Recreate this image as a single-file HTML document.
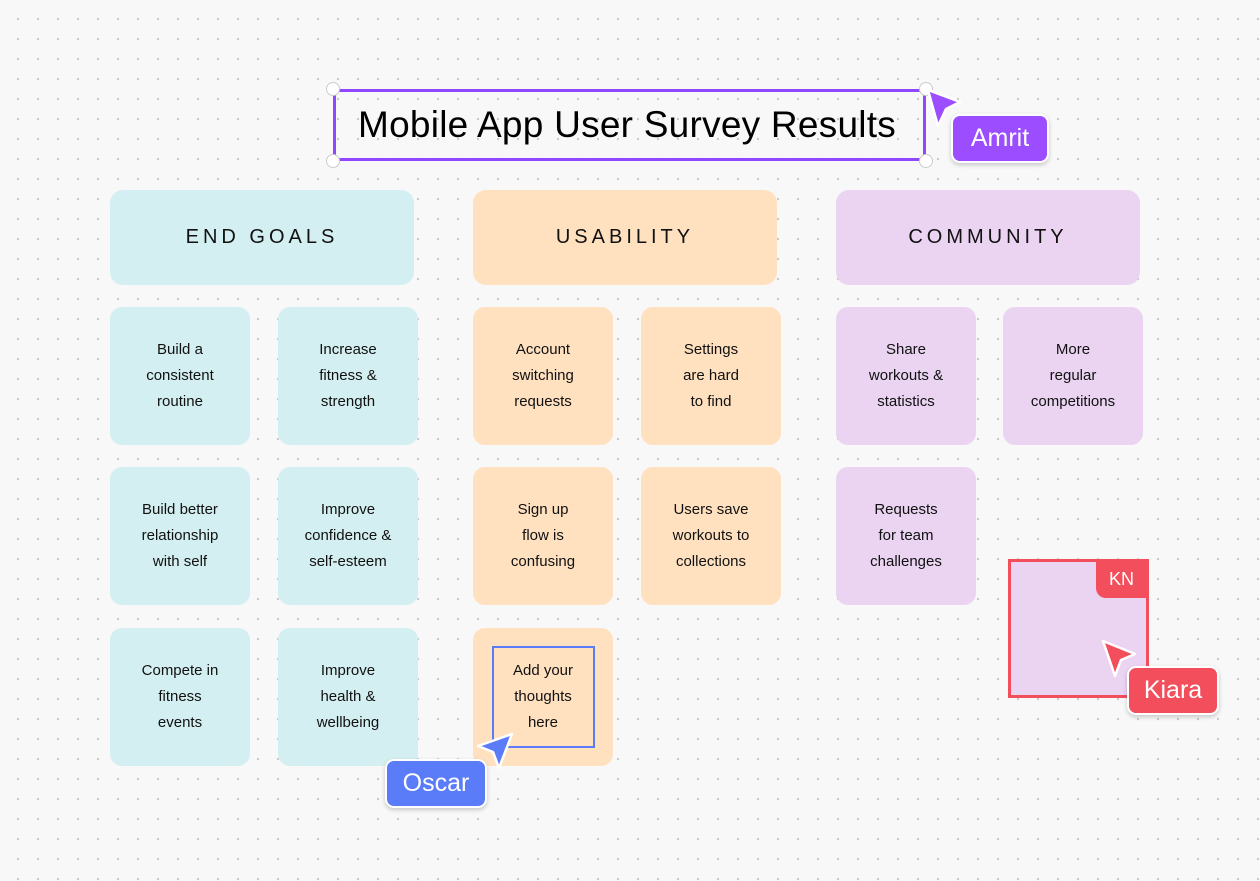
<!DOCTYPE html>
<html><head><meta charset="utf-8"><style>
*{margin:0;padding:0;box-sizing:border-box}
body{width:1260px;height:881px;overflow:hidden;background:#f8f8f8;font-family:"Liberation Sans",sans-serif;position:relative;
background-image:radial-gradient(circle,#c4c4c4 0.9px,transparent 1.3px);background-size:20px 20px;background-position:8px 9px}
.a{position:absolute}
.h{position:absolute;height:95px;width:304px;border-radius:13px;display:flex;align-items:center;justify-content:center;font-size:20px;letter-spacing:4px;color:#111}
.c{position:absolute;width:140px;height:138px;border-radius:12px;display:flex;align-items:center;justify-content:center;text-align:center;font-size:15px;line-height:26px;color:#111}
.t{background:#d4eff1}.o{background:#ffe1c0}.p{background:#ead4f2}
.lbl{position:absolute;color:#fff;font-size:25px;border-radius:9px;border:2px solid #fff;box-shadow:0 2px 5px rgba(0,0,0,.2);display:flex;align-items:center;justify-content:center}
.hd{position:absolute;width:14px;height:14px;border-radius:50%;background:#fff;border:1px solid #ccc}
</style></head><body>
<div class="a" style="left:333px;top:89px;width:593px;height:72px;border:3px solid #9146ff;display:flex;align-items:center;padding-left:22px;font-size:37px;letter-spacing:0.25px;color:#000">Mobile App User Survey Results</div>
<div class="hd" style="left:326px;top:82px"></div><div class="hd" style="left:919px;top:82px"></div>
<div class="hd" style="left:326px;top:154px"></div><div class="hd" style="left:919px;top:154px"></div>
<svg class="a" style="left:920px;top:82px" width="50" height="50"><path d="M8 8 L40 20 L26 27 L18 44 Z" fill="#9b4dff" stroke="#fff" stroke-width="2.5" stroke-linejoin="round"/></svg>
<div class="lbl" style="left:951px;top:114px;width:98px;height:49px;background:#9b4dff">Amrit</div>

<div class="h t" style="left:110px;top:190px">END GOALS</div>
<div class="h o" style="left:473px;top:190px">USABILITY</div>
<div class="h p" style="left:836px;top:190px">COMMUNITY</div>

<div class="c t" style="left:110px;top:307px">Build a<br>consistent<br>routine</div>
<div class="c t" style="left:278px;top:307px">Increase<br>fitness &amp;<br>strength</div>
<div class="c t" style="left:110px;top:467px">Build better<br>relationship<br>with self</div>
<div class="c t" style="left:278px;top:467px">Improve<br>confidence &amp;<br>self-esteem</div>
<div class="c t" style="left:110px;top:628px">Compete in<br>fitness<br>events</div>
<div class="c t" style="left:278px;top:628px">Improve<br>health &amp;<br>wellbeing</div>

<div class="c o" style="left:473px;top:307px">Account<br>switching<br>requests</div>
<div class="c o" style="left:641px;top:307px">Settings<br>are hard<br>to find</div>
<div class="c o" style="left:473px;top:467px">Sign up<br>flow is<br>confusing</div>
<div class="c o" style="left:641px;top:467px">Users save<br>workouts to<br>collections</div>
<div class="c o" style="left:473px;top:628px"><div style="width:103px;height:102px;border:2px solid #5b7cf8;display:flex;align-items:center;justify-content:center">Add your<br>thoughts<br>here</div></div>

<div class="c p" style="left:836px;top:307px">Share<br>workouts &amp;<br>statistics</div>
<div class="c p" style="left:1003px;top:307px">More<br>regular<br>competitions</div>
<div class="c p" style="left:836px;top:467px">Requests<br>for team<br>challenges</div>

<div class="a" style="left:1008px;top:559px;width:141px;height:139px;background:#ead4f2;border:3px solid #f24e5b"></div>
<div class="a" style="left:1096px;top:561px;width:51px;height:37px;background:#f24e5b;border-bottom-left-radius:10px;color:#fff;font-size:18px;display:flex;align-items:center;justify-content:center">KN</div>
<svg class="a" style="left:1094px;top:632px" width="50" height="50"><path d="M9 9 L41 22 L27 28 L21 44 Z" fill="#f24e5b" stroke="#fff" stroke-width="2.5" stroke-linejoin="round"/></svg>
<div class="lbl" style="left:1127px;top:666px;width:92px;height:49px;background:#f24e5b">Kiara</div>

<svg class="a" style="left:470px;top:724px" width="50" height="50"><path d="M42 10 L8 22 L23 28 L29 44 Z" fill="#5b7cf8" stroke="#fff" stroke-width="2.5" stroke-linejoin="round"/></svg>
<div class="lbl" style="left:385px;top:759px;width:102px;height:49px;background:#5b7cf8">Oscar</div>
</body></html>
